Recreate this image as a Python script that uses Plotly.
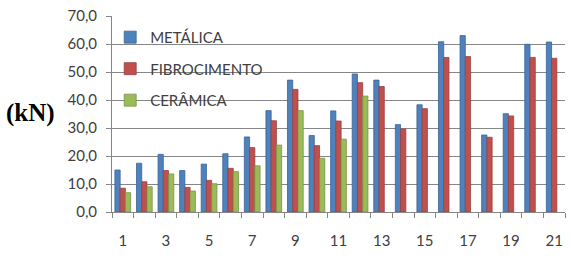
import plotly.graph_objects as go

categories = list(range(1, 22))
metalica = [15.0, 17.4, 20.6, 14.8, 17.1, 20.8, 26.8, 36.2, 47.1, 27.3, 36.1,
            49.3, 47.1, 31.2, 38.3, 60.8, 63.0, 27.5, 35.1, 59.9, 60.7]
fibrocimento = [8.5, 10.8, 14.8, 8.8, 11.3, 15.6, 23.0, 32.6, 43.8, 23.7, 32.5,
                46.2, 44.8, 29.6, 36.9, 55.2, 55.5, 26.7, 34.3, 55.2, 54.9]
ceramica = [6.9, 9.0, 13.6, 7.5, 10.1, 14.4, 16.5, 23.9, 36.2, 19.2, 26.0,
            41.4, None, None, None, None, None, None, None, None, None]
tick_labels = [str(c) for c in categories if c % 2 == 1]
y_ticks = [0, 10, 20, 30, 40, 50, 60, 70]

series = [("METÁLICA", metalica, "#4F81BD", "#3A6595"),
          ("FIBROCIMENTO", fibrocimento, "#C0504D", "#98403D"),
          ("CERÂMICA", ceramica, "#9BBB59", "#7A9446")]

fig = go.Figure()
for name, vals, col, edge in series:
    fig.add_trace(go.Bar(x=categories, y=vals, name=name, legendgroup=name,
                         hoverinfo="skip",
                         marker=dict(color=col, line=dict(color=edge, width=0.8))))

fig.update_layout(
    width=571, height=256,
    margin=dict(l=112, r=6, t=16, b=44),
    paper_bgcolor="white", plot_bgcolor="white",
    separators=",.",
    hovermode=False,
    barmode="group", bargap=0.27, bargroupgap=0.0,
    font=dict(family="Lato", size=15, color="#404040"),
    legend=dict(x=-0.004, y=0.975, xanchor="left", yanchor="top",
                bgcolor="rgba(255,255,255,0)", font=dict(size=15, color="#404040"),
                tracegroupgap=9, itemwidth=30),
    showlegend=True,
)
# white panel behind the legend that hides the gridlines (under the bars)
fig.add_shape(type="rect", xref="paper", yref="paper",
              x0=0.035, x1=0.331, y0=0.535, y1=0.955,
              fillcolor="white", line=dict(width=0), layer="between")

fig.update_xaxes(range=[0.5, 21.5], tickvals=[int(t) for t in tick_labels],
                 ticktext=tick_labels, ticks="", showgrid=False, automargin=False,
                 showline=True, linecolor="#868686", linewidth=1,
                 tickfont=dict(size=15, color="#404040"), ticklabelstandoff=15,
                 minor=dict(tickvals=[c - 0.5 for c in categories] + [21.5],
                            ticks="outside", ticklen=5, tickcolor="#868686",
                            showgrid=False))
fig.update_yaxes(range=[0, 70], tickvals=y_ticks, tickformat=".1f", automargin=False,
                 showgrid=True, gridcolor="#868686", gridwidth=1,
                 showline=True, linecolor="#868686", linewidth=1,
                 ticks="outside", ticklen=5, tickcolor="#868686",
                 ticklabelstandoff=6,
                 tickfont=dict(size=15, color="#404040"), zeroline=False)

fig.add_annotation(text="<b>(kN)</b>", xref="paper", yref="paper",
                   x=-0.18, y=0.505, xanchor="center", yanchor="middle",
                   showarrow=False,
                   font=dict(family="Liberation Serif", size=25, color="black"))

fig.write_html("out.html", config={"displayModeBar": False, "staticPlot": True},
               post_script="document.body.style.margin='0';")
